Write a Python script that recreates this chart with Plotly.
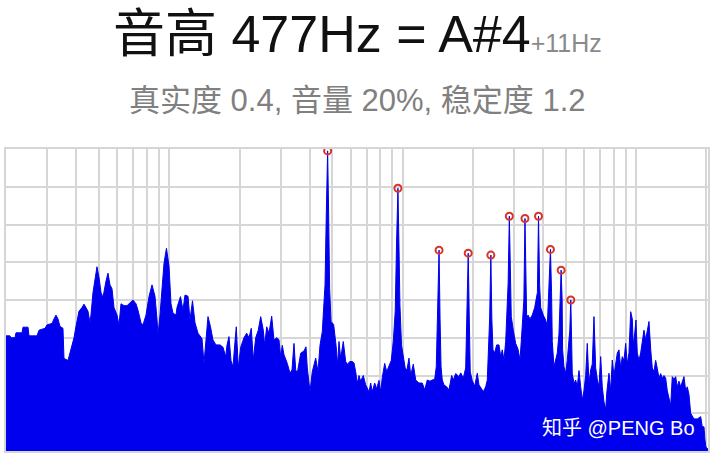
import plotly.graph_objects as go
import math

# Spectrum: frequency (Hz) and level (axis units 0..8)
freq_hz = [
    20.0, 20.8, 21.0, 21.86, 22.07, 23.42, 23.65, 24.85, 25.09, 27.16, 27.70, 29.39, 29.96,
    31.48, 32.11, 32.74, 33.39, 34.06, 35.08, 35.43, 36.86, 37.59, 38.34, 39.11, 39.88,
    41.08, 42.31, 43.15, 44.01, 44.89, 45.78, 46.23, 47.16, 48.09, 49.06, 50.04, 51.04, 52.05,
    53.09, 53.61, 54.68, 55.77, 56.88, 58.01, 59.76, 60.95, 62.16, 64.03, 65.95, 68.60, 69.97,
    72.07, 73.50, 75.71, 77.22, 79.54, 81.93, 84.39, 86.92, 88.65, 89.53, 91.31, 93.13, 94.99,
    96.88, 97.36, 99.79, 101.78, 103.80, 106.92, 107.98, 111.77, 114.56, 116.84, 120.35, 122.75,
    125.81, 128.95, 132.82, 138.17, 140.92,
    143.72, 146.58, 150.24, 153.99, 158.62, 165.00, 169.96, 174.54, 176.79, 180.32, 183.91,
    187.57, 191.31, 193.77, 197.64, 202.38, 209.06, 214.70, 219.62, 224.67, 229.14, 234.63,
    240.72, 246.50, 252.89, 256.41, 261.51, 267.51, 274.74, 281.03, 288.61, 295.22, 300.24,
    305.0, 310.15, 315.39, 320.42, 329.06, 335.61, 342.30, 348.09, 353.62, 365.70, 377.77, 385.29,
    390.27, 400.79, 409.99, 423.97, 433.69, 442.33, 452.48, 464.9, 470.9, 477.0, 481.7, 486.5,
    493.3, 506.1, 518.2, 526.4, 533.48, 542.54, 556.61, 569.93, 578.99, 594.60, 608.24, 618.52,
    628.98, 639.0, 649.78, 660.81, 677.95, 694.17, 717.12, 729.30, 740.85, 758.61, 773.70,
    791.44, 804.87, 817.62, 837.22, 853.89, 873.46, 893.50, 911.33, 928.9, 940.9, 954.0, 963.5,
    973.0, 988.5, 1005.3, 1025.2,
    1043.1, 1063.9, 1082.0, 1110.0, 1136.6, 1174.1, 1213.0, 1242.0, 1274.4, 1308.7, 1338.7,
    1370.8, 1392.5, 1414.1, 1431.0, 1445.2, 1459.5, 1477.4, 1502.4, 1542.9, 1578.3, 1621.0,
    1646.7, 1686.1, 1741.9, 1771.4, 1817.4, 1860.9, 1885.5, 1908.0, 1926.9, 1946.0, 1986.0,
    2033.6, 2086.4, 2121.6, 2170.3, 2213.6, 2266.6, 2302.7, 2356.9, 2385.0, 2408.6, 2435.8,
    2477.0, 2526.3, 2584.2, 2628.1, 2669.7, 2714.9,
    2760.8, 2828.3, 2862.0, 2896.1, 2917.5, 2975.7, 3046.9, 3116.7, 3178.8, 3219.9, 3251.8,
    3303.0, 3339.0, 3375.4, 3396.0, 3439.7, 3508.3, 3588.8, 3674.8, 3774.8, 3816.0, 3857.6,
    3898.9, 4000.1, 4095.8, 4161.0, 4246.7, 4293.0, 4339.8, 4371.2, 4445.1, 4520.3, 4592.2,
    4669.7, 4723.2, 4770.0, 4817.3, 4838.5, 4905.8, 4988.7, 5068.2, 5153.7, 5195.5, 5247.0,
    5299.0, 5324.2, 5414.2, 5505.8, 5593.4, 5687.8, 5784.4, 5876.0, 5975.3, 6076.4, 6173.1,
    6277.3, 6383.9, 6484.9, 6594.6, 6706.1, 6812.9, 6927.8, 7045.4, 7157.0, 7278.0, 7401.1,
    7496.5, 7645.7, 7775.6, 7898.7, 8032.3, 8298.1, 8438.1, 8581.4, 8717.3, 8864.7, 9014.6,
    9158.1, 9312.6, 9470.7, 9620.7, 9716.4, 9851.4, 9978.2, 10107, 10278, 10452, 10618, 10797,
    10980, 11154, 11343, 11535, 11718, 11916, 12117, 12310, 12518, 12730, 12932, 13151, 13373,
    13586, 13816, 14050, 14273, 14514, 14760, 14994, 15247, 15506, 16018, 16289, 16548, 16827,
    17113, 17678, 18263, 18887, 19186, 19510, 19703, 19899, 20295,
]
level = [
    3.05, 3.05, 3.0, 3.0, 3.13, 3.13, 3.28, 3.28, 3.05, 3.05, 3.2, 3.25, 3.34,
    3.38, 3.5, 3.6, 3.5, 3.3, 3.25, 2.45, 2.4, 2.6, 2.75, 3.0, 3.3,
    3.7, 3.8, 3.89, 3.8, 3.7, 3.4, 3.6, 4.2, 4.5, 4.88, 4.6, 4.2, 4.07,
    4.4, 4.5, 4.71, 4.4, 4.3, 3.8, 3.6, 3.34, 3.9, 3.85, 3.85, 3.95, 4.0,
    3.9, 3.73, 3.4, 3.34, 3.6, 4.09, 4.4, 4.1, 3.5, 3.07, 3.6, 4.2, 4.97,
    5.3, 5.37, 4.9, 3.9, 3.65, 3.6, 3.8, 4.09, 3.73, 4.13, 4.1, 3.47,
    3.98, 3.4, 3.12, 2.98, 2.32,
    2.9, 3.56, 3.29, 2.94, 2.81, 2.81, 2.75, 2.5, 2.8, 3.03, 2.4,
    2.23, 2.9, 3.29, 2.2, 2.75, 3.0, 3.12, 3.0, 3.25, 2.41, 3.0,
    3.2, 3.56, 3.2, 2.8, 3.29, 3.12, 3.57, 2.94, 3.0, 2.95, 2.5,
    2.8, 2.55, 2.45, 2.32, 2.06, 2.15, 2.85, 2.15, 2.06, 2.59, 2.65, 2.76,
    2.2, 1.57, 2.1, 2.46, 2.1, 2.8, 3.16, 4.4, 6.34, 7.95, 6.3, 4.3,
    3.43, 3.35, 2.8, 2.28, 2.9, 2.45, 2.9, 2.37, 2.3, 2.37, 2.37, 2.33,
    2.1, 1.79, 2.0, 1.85, 2.0, 1.75, 1.57, 1.8, 1.57, 1.8, 1.65,
    1.87, 1.57, 1.95, 2.32, 2.1, 2.25, 2.4, 2.9, 3.7, 5.46, 6.96, 5.5,
    3.87, 2.8, 2.5, 2.19,
    2.15, 2.46, 2.0, 2.3, 1.88, 1.8, 1.8, 1.62, 1.88, 1.85, 1.88,
    1.9, 2.23, 4.26, 5.32, 3.5, 2.23, 1.88, 1.75, 1.7, 1.62, 2.0,
    1.88, 2.05, 1.97, 2.07, 1.93, 2.2, 3.65, 5.24, 3.6, 2.1, 1.86,
    1.72, 2.06, 1.75, 1.66, 1.57, 1.7, 1.88, 3.5, 5.19, 3.5, 2.68,
    2.6, 2.81, 2.81, 2.5, 2.68, 2.41,
    2.9, 4.44, 6.22, 4.44, 3.56, 3.2, 2.85, 2.7, 2.41, 2.9, 3.38,
    4.0, 6.16, 4.0, 3.5, 3.6, 3.5, 3.6, 3.8, 4.2, 6.22, 4.4,
    3.8, 3.6, 3.47, 3.3, 4.4, 5.34, 4.2, 2.9, 2.23, 2.4, 2.59,
    3.1, 4.2, 4.79, 4.0, 2.7, 2.23, 2.06, 2.4, 3.1, 3.2, 4.0,
    3.1, 2.06, 1.79, 1.88, 1.7, 2.13, 1.7, 1.35, 1.6, 2.0, 2.85,
    1.8, 2.15, 2.3, 3.56, 2.2, 1.9, 1.7, 2.5, 1.7, 1.3, 1.1,
    1.6, 2.06, 1.6, 2.41, 2.0, 2.59, 2.68, 2.2, 2.5, 2.4, 2.85,
    2.3, 2.6, 3.69, 3.5, 2.8, 3.1, 3.47, 2.6, 2.4, 2.6, 2.9, 3.2,
    2.95, 3.25, 3.43, 2.7, 2.2, 2.1, 2.4, 2.19, 1.93, 2.05, 1.93, 2.0, 1.93,
    1.6, 1.4, 1.2, 1.97, 1.9, 1.97, 1.7, 1.85, 1.7, 1.97, 1.6, 1.7, 1.5,
    1.0, 0.85, 0.85, 0.91, 0.64, 0.64, 0.29, 0.1, 0.05,
]

# Detected harmonic peaks (fundamental 477 Hz)
harm_freq = [477, 954, 1431, 1908, 2385, 2862, 3339, 3816, 4293, 4770, 5247]
harm_level = [7.95, 6.96, 5.32, 5.24, 5.19, 6.22, 6.16, 6.22, 5.34, 4.79, 4.0]

# Axis grid ticks (log frequency) and level ticks
x_grid = [20, 30, 40, 50, 60, 70, 80, 90,
          100, 200, 300, 400, 500, 600, 700, 800, 900,
          1000, 2000, 3000, 4000, 5000, 6000, 7000, 8000, 9000,
          10000, 20000]
y_grid = [0, 1, 2, 3, 4, 5, 6, 7, 8]

title_main = "音高 477Hz = A#4"
title_offset = "+11Hz"
subtitle = "真实度 0.4, 音量 20%, 稳定度 1.2"
watermark = "知乎 @PENG Bo"

FONT = "Liberation Sans, Noto Sans CJK SC, sans-serif"

fig = go.Figure()
fig.add_trace(go.Scatter(
    x=freq_hz, y=level, mode="lines",
    line=dict(color="#0000ee", width=1),
    fill="tozeroy", fillcolor="#0000ee",
    hoverinfo="skip", showlegend=False,
))
fig.add_trace(go.Scatter(
    x=harm_freq, y=harm_level, mode="markers",
    marker=dict(symbol="circle-open", size=7, color="#d8342a",
                line=dict(width=2, color="#d8342a")),
    showlegend=False,
))

fig.update_layout(
    width=716, height=459,
    margin=dict(l=6, r=8, t=149, b=8),
    paper_bgcolor="white", plot_bgcolor="white",
    font=dict(family=FONT),
    xaxis=dict(type="log", range=[math.log10(20), math.log10(20300)],
               tickvals=x_grid, showticklabels=False, ticks="",
               showgrid=True, gridcolor="#d6d6d6", gridwidth=2,
               zeroline=False, showline=True, linecolor="#d6d6d6",
               linewidth=2, mirror=True),
    yaxis=dict(range=[0, 8], tickvals=y_grid, showticklabels=False, ticks="",
               showgrid=True, gridcolor="#d6d6d6", gridwidth=2,
               zeroline=False, showline=True, linecolor="#d6d6d6",
               linewidth=2, mirror=True),
    annotations=[
        dict(text=title_main + '<span style="font-size:25px;color:#8a8a8a">'
             + title_offset + '</span>',
             x=0.5, y=1.382, xref="paper", yref="paper",
             xanchor="center", yanchor="middle", showarrow=False,
             font=dict(size=52, color="#111111", family=FONT)),
        dict(text=subtitle, x=0.5, y=1.162, xref="paper", yref="paper",
             xanchor="center", yanchor="middle", showarrow=False,
             font=dict(size=31, color="#808080", family=FONT)),
        dict(text=watermark, x=0.873, y=0.076, xref="paper", yref="paper",
             xanchor="center", yanchor="middle", showarrow=False,
             font=dict(size=20, color="white", family=FONT)),
    ],
)

fig.write_html("out.html", config={"displayModeBar": False},
               post_script="document.body.style.margin='0';")
